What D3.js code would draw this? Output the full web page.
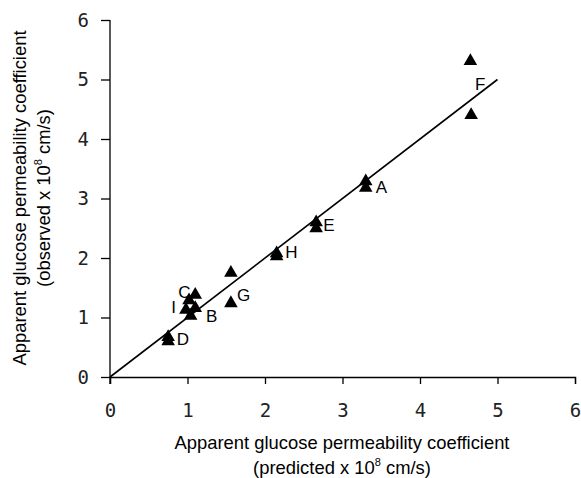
<!DOCTYPE html>
<html><head><meta charset="utf-8">
<script src="https://cdn.jsdelivr.net/npm/d3@7"></script>
<style>body{margin:0;background:#fff}</style>
</head><body>
<svg id="c" width="581" height="478"></svg>
<script>
const predicted = [4.65, 4.66, 3.30, 3.30, 2.66, 2.66, 2.15, 2.15, 1.56, 1.56, 1.10, 1.02, 0.98, 1.10, 1.04, 0.75, 0.75];
const observed  = [5.31, 4.40, 3.29, 3.18, 2.60, 2.50, 2.08, 2.03, 1.75, 1.24, 1.38, 1.29, 1.13, 1.16, 1.03, 0.67, 0.60];
const labels = ["F","A","E","H","G","C","I","B","D"];
const labelX = [4.71, 3.43, 2.75, 2.26, 1.64, 0.88, 0.79, 1.24, 0.86];
const labelY = [4.82, 3.09, 2.45, 2.00, 1.28, 1.33, 1.08, 0.92, 0.54];
const ticks = [0,1,2,3,4,5,6];
const fitLine = [[0,0],[5,5]];

const svg = d3.select("#c");
const x = d3.scaleLinear().domain([0,6]).range([110,575]);
const y = d3.scaleLinear().domain([0,6]).range([377,20]);

const xa = svg.append("g").attr("transform","translate(0,377)")
  .call(d3.axisBottom(x).tickValues(ticks).tickSize(7).tickPadding(20).tickFormat(d3.format("d")));
const ya = svg.append("g").attr("transform","translate(110,0)")
  .call(d3.axisLeft(y).tickValues(ticks).tickSize(9).tickPadding(12).tickFormat(d3.format("d")));
[xa,ya].forEach(a=>{
  a.select(".domain").attr("stroke","#000").attr("stroke-width",1.3);
  a.selectAll(".tick line").attr("stroke","#000").attr("stroke-width",1.3);
  a.selectAll(".tick text").attr("font-family","DejaVu Sans Mono, monospace").attr("font-size",19).attr("fill","#222");
});
ya.select(".domain").attr("d",`M0,${y(6)}V${y(0)+7}`);

svg.append("path").attr("d", d3.line().x(d=>x(d[0])).y(d=>y(d[1]))(fitLine))
  .attr("stroke","#000").attr("stroke-width",1.6).attr("fill","none");

const tri = d3.symbol().type(d3.symbolTriangle).size(80);
svg.selectAll(".pt").data(predicted).join("path")
  .attr("d", tri).attr("transform",(d,i)=>`translate(${x(d)},${y(observed[i])})`).attr("fill","#000");

svg.selectAll(".lb").data(labels).join("text")
  .attr("x",(d,i)=>x(labelX[i])).attr("y",(d,i)=>y(labelY[i]))
  .attr("font-family","Liberation Sans, Arial, sans-serif").attr("font-size",17).attr("fill","#000")
  .text(d=>d);

const lf = "Liberation Sans, Arial, sans-serif";
const fs = 18.4;
const xl = svg.append("text").attr("x",342).attr("y",449).attr("text-anchor","middle").attr("font-family",lf).attr("font-size",fs);
xl.append("tspan").text("Apparent glucose permeability coefficient");
const xl2 = svg.append("text").attr("x",342).attr("y",474).attr("text-anchor","middle").attr("font-family",lf).attr("font-size",fs);
xl2.append("tspan").text("(predicted x 10");
xl2.append("tspan").attr("font-size",11).attr("dy",-8).text("8");
xl2.append("tspan").attr("dy",8).text(" cm/s)");

const yl = svg.append("text").attr("transform","translate(26,198) rotate(-90)").attr("text-anchor","middle").attr("font-family",lf).attr("font-size",fs);
yl.append("tspan").text("Apparent glucose permeability coefficient");
const yl2 = svg.append("text").attr("transform","translate(50,198) rotate(-90)").attr("text-anchor","middle").attr("font-family",lf).attr("font-size",fs);
yl2.append("tspan").text("(observed x 10");
yl2.append("tspan").attr("font-size",11).attr("dy",-8).text("8");
yl2.append("tspan").attr("dy",8).text(" cm/s)");
</script>
</body></html>
